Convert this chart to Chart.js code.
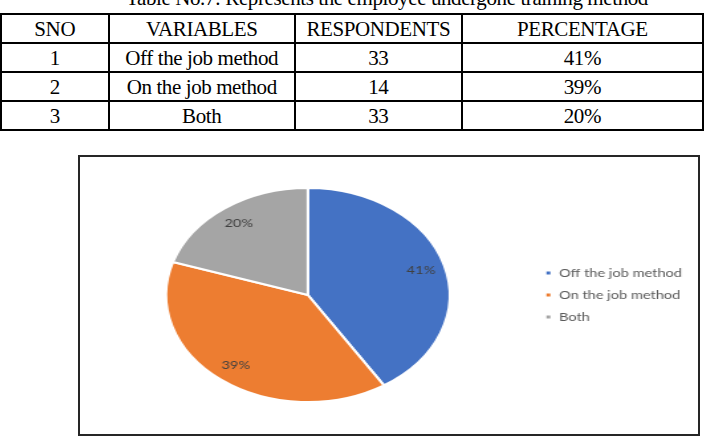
<!DOCTYPE html>
<html>
<head>
<meta charset="utf-8">
<script src="https://cdn.jsdelivr.net/npm/chart.js@4.4.1/dist/chart.umd.min.js"></script>
<style>
  html, body { margin: 0; padding: 0; background: #fff; width: 704px; height: 440px; overflow: hidden; }
  #title { position: absolute; left: 0; width: 774px; top: -14px; text-align: center;
           font: 21px "Liberation Serif", serif; letter-spacing: -0.4px; color: #000; white-space: nowrap; }
  #tbl { position: absolute; left: 0; top: 13px; width: 704px; border-collapse: collapse;
         font: 21px "Liberation Serif", serif; letter-spacing: -0.4px; color: #000; }
  #tbl td { border: 2px solid #000; text-align: center; padding: 0; height: 27px; line-height: 24px; }
  #box { position: absolute; left: 78px; top: 155px; width: 618px; height: 277px;
         border: 2px solid #262626; background: #fff; overflow: hidden; }
  #inner { position: absolute; left: 0; top: 0; width: 480px; height: 277px;
           transform: scaleX(1.326); transform-origin: 0 0; }
</style>
</head>
<body>
<div id="title">Table No.7: Represents the employee undergone training method</div>
<table id="tbl">
  <colgroup><col style="width:108px"><col style="width:187px"><col style="width:167px"><col style="width:242px"></colgroup>
  <tbody id="tbody"></tbody>
</table>
<div id="box"><div id="inner"><canvas id="pieChart"></canvas></div></div>

<script>
// table data
const headers = ['SNO', 'VARIABLES', 'RESPONDENTS', 'PERCENTAGE'];
const sno = ['1', '2', '3'];
const variables = ['Off the job method', 'On the job method', 'Both'];
const respondents = [33, 14, 33];
const percentText = ['41%', '39%', '20%'];

// pie data
const pieLabels = ['Off the job method', 'On the job method', 'Both'];
const pieValues = [41, 39, 20];
const pieColors = ['#4472C4', '#ED7D31', '#A5A5A5'];

// build the table
const tbody = document.getElementById('tbody');
let html = '<tr>' + headers.map(h => '<td>' + h + '</td>').join('') + '</tr>';
for (let i = 0; i < sno.length; i++) {
    html += '<tr><td>' + sno[i] + '</td><td>' + variables[i] + '</td><td>' +
        respondents[i] + '</td><td>' + percentText[i] + '</td></tr>';
}
tbody.innerHTML = html;

// percentage labels inside the slices
const sliceLabels = {
    id: 'sliceLabels',
    afterDatasetsDraw(chart) {
        const ctx = chart.ctx;
        const meta = chart.getDatasetMeta(0);
        ctx.save();
        ctx.font = '11px Lato, sans-serif';
        ctx.fillStyle = '#404040';
        ctx.textAlign = 'center';
        ctx.textBaseline = 'middle';
        meta.data.forEach((arc, i) => {
            const p = arc.getProps(['x', 'y', 'startAngle', 'endAngle', 'outerRadius'], true);
            const mid = (p.startAngle + p.endAngle) / 2;
            const r = p.outerRadius * 0.83;
            ctx.fillText(percentText[i], p.x + Math.cos(mid) * r, p.y + Math.sin(mid) * r);
        });
        ctx.restore();
    }
};

const ctxPie = document.getElementById('pieChart').getContext('2d');
const pieChart = new Chart(ctxPie, {
    type: 'pie',
    data: {
        labels: pieLabels,
        datasets: [{
            data: pieValues,
            backgroundColor: pieColors,
            borderColor: '#ffffff',
            borderWidth: 2,
            hoverOffset: 0
        }]
    },
    options: {
        responsive: true,
        maintainAspectRatio: false,
        animation: false,
        layout: { padding: { left: 4, right: 16, top: 30, bottom: 31 } },
        plugins: {
            tooltip: { enabled: false },
            legend: {
                position: 'right',
                labels: {
                    boxWidth: 5,
                    boxHeight: 5,
                    padding: 11,
                    color: '#595959',
                    font: { family: 'Lato', size: 11 }
                }
            }
        }
    },
    plugins: [sliceLabels]
});
</script>
</body>
</html>
